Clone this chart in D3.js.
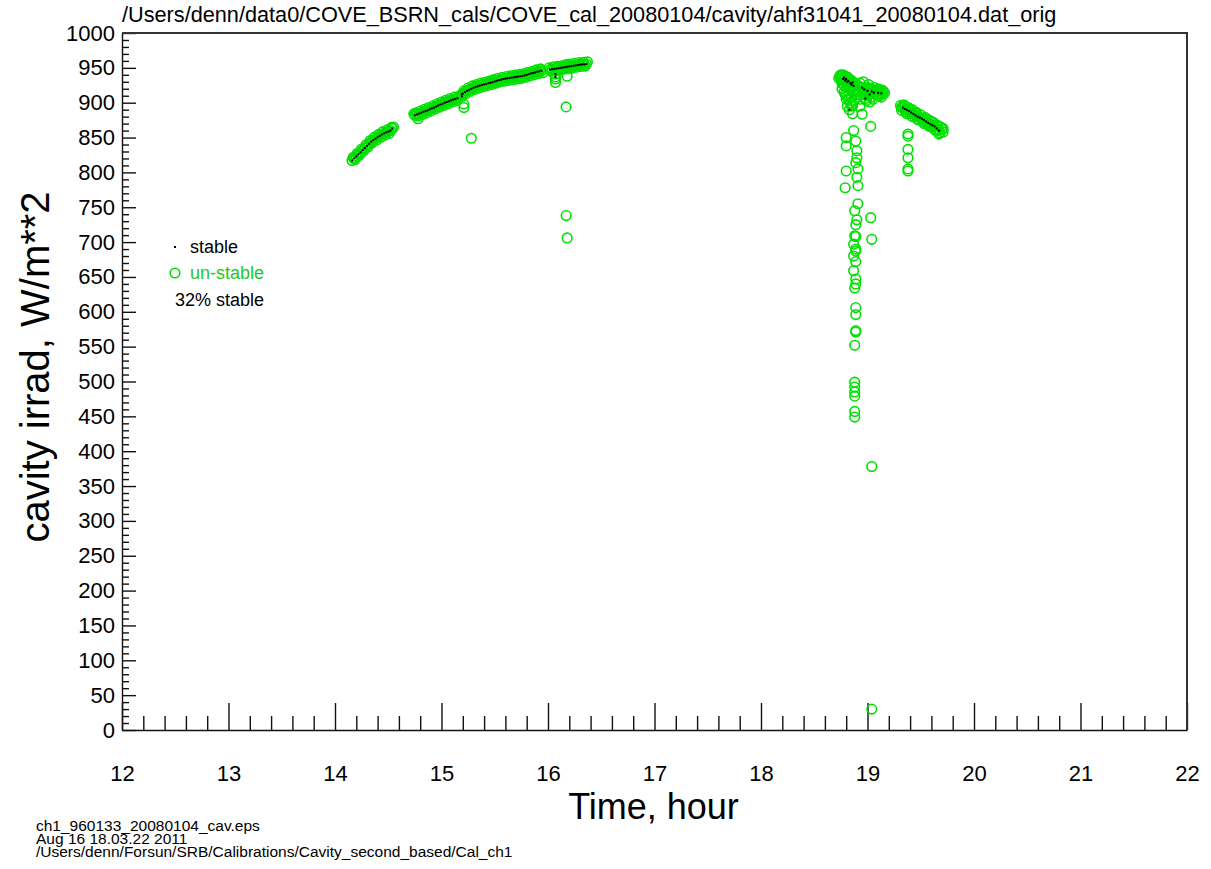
<!DOCTYPE html>
<html>
<head>
<meta charset="utf-8">
<script src="https://cdn.jsdelivr.net/npm/d3@7"></script>
<style>
  body { margin: 0; background: #fff; }
  svg { font-family: "Liberation Sans", Arial, Helvetica, sans-serif; }
</style>
</head>
<body>
<div id="chart"></div>
<script>
// ---- data: [hour, W/m**2] ----
var run1Stable = [[14.16,817],[14.18,820],[14.20,823],[14.22,826],[14.24,829],[14.26,832],[14.28,835],[14.30,838],
  [14.32,841],[14.34,844],[14.36,846.5],[14.38,848.5],[14.40,850.5],[14.42,852.5],[14.44,854.5],[14.46,856],
  [14.48,857.5],[14.50,858.5],[14.52,860],[14.54,863]];
var run1Scatter = [[14.17,821.5],[14.19,818.5],[14.21,827.5],[14.23,824.5],[14.25,833.5],[14.27,830.5],[14.29,839.5],
  [14.31,836.5],[14.33,845.5],[14.35,842.5],[14.37,850.5],[14.39,846.5],[14.41,854.5],[14.43,850.5],[14.45,858.5],
  [14.47,853.5],[14.49,861],[14.51,856],[14.53,864.5],[14.55,865]];

var run2Stable = [[14.75,882],[14.77,883],[14.79,884.5],[14.81,885.5],[14.83,887],[14.85,888],[14.87,889],[14.89,890.5],
  [14.91,892],[14.93,893],[14.95,894.5],[14.97,896],[14.99,897.5],[15.01,898.5],[15.03,900],[15.05,901],[15.07,902],
  [15.09,903.5],[15.11,904.5],[15.13,905.5],[15.15,906.5],[15.19,909],[15.19,912]];
var run2Scatter = [[14.74,884],[14.76,885.5],[14.78,881],[14.80,888],[14.82,883],[14.84,890.5],[14.86,885.5],[14.88,893],[14.90,888],
  [14.92,895.5],[14.94,891],[14.96,898.5],[14.98,893.5],[15.00,901],[15.02,896],[15.04,903.5],[15.06,898.5],[15.08,906],
  [15.10,901],[15.12,908],[15.14,903],[15.16,909],[14.78,877]];

var run3Stable = [[15.20,913],[15.22,915],[15.24,917],[15.26,918.5],[15.28,920],[15.30,921.5],[15.32,922.5],[15.34,923.5],
  [15.36,924.5],[15.38,925.5],[15.40,926.5],[15.42,927],[15.44,928],[15.46,928.5],[15.48,929.5],[15.50,930.5],
  [15.52,931.5],[15.54,932.5],[15.56,933],[15.58,934],[15.60,934.5],[15.62,935],[15.64,935.5],[15.66,936],
  [15.68,936.5],[15.70,937],[15.72,937.5],[15.74,938],[15.76,938.5],[15.78,939],[15.80,940],[15.82,941],
  [15.84,942],[15.86,942.5],[15.88,943.5],[15.90,944.5],[15.92,945],[15.94,946]];
var run3Scatter = [[15.21,917],[15.23,913],[15.25,921],[15.27,916.5],[15.29,924],[15.31,919],[15.33,926],[15.35,921],
  [15.37,928],[15.39,923],[15.41,929.5],[15.43,924.5],[15.45,931],[15.47,926],[15.49,933],[15.51,928],[15.53,935],
  [15.55,930],[15.57,936.5],[15.59,931],[15.61,937.5],[15.63,932],[15.65,938.5],[15.67,933],[15.69,939.5],[15.71,934],
  [15.73,940.5],[15.75,935],[15.77,941.5],[15.79,936.5],[15.81,943.5],[15.83,938.5],[15.85,945],[15.87,940],
  [15.89,947],[15.91,942],[15.93,948.5],[15.95,943]];

var run4Stable = [[16.02,947.5],[16.04,948],[16.06,948.5],[16.08,949],[16.10,949.5],[16.12,950],[16.14,950.5],[16.16,951],
  [16.18,951.5],[16.20,952],[16.22,952.5],[16.24,953],[16.26,953.5],[16.28,954],[16.30,954.5],[16.32,955],
  [16.34,955],[16.36,955.5],[16.07,941],[16.07,937]];
var run4Scatter = [[16.01,950],[16.03,945],[16.05,951.5],[16.07,945.5],[16.09,952],[16.11,947],[16.13,953],[16.15,948],
  [16.17,954.5],[16.19,949],[16.21,955.5],[16.23,950],[16.25,956.5],[16.27,951],[16.29,957.5],[16.31,952],
  [16.33,958],[16.35,952.5],[16.37,958.5]];

var morningOutliers = [[15.21,898],[15.21,893],[15.28,849],[16.07,934],[16.07,929],[16.18,938],
  [16.17,894],[16.17,738],[16.18,706]];

var clusterStable = [[18.77,934],[18.78,936],[18.79,932],[18.80,934],[18.81,930],[18.82,931],[18.84,928],[18.85,926],
  [18.86,929],[18.87,924],[18.83,890],[18.95,921.6],[18.97,919],[19.00,917],[19.02,912],[19.04,916],[19.06,914.5],
  [19.10,914],[19.13,913.5],[18.98,906],
  [19.33,893],[19.35,891],[19.37,889.5],[19.39,888],[19.41,886],[19.43,884],[19.45,882],[19.47,880],[19.49,878.5],
  [19.51,877],[19.53,875],[19.55,873],[19.57,871],[19.59,869],[19.61,867.5],[19.63,866],[19.65,863],[19.67,860]];
var clusterScatter = [[18.74,938],[18.75,933],[18.76,928],[18.77,940],[18.78,925],[18.79,938],[18.80,922],[18.81,937],
  [18.82,926],[18.83,934],[18.84,919],[18.85,932],[18.86,922],[18.87,915],[18.88,928],[18.89,918],[18.90,911],
  [18.78,915],[18.80,910],[18.82,905],[18.84,900],[18.86,896],[18.85,908],[18.88,904],[18.81,895],
  [18.80,905],[18.85,895],[18.93,895],[18.95,883.5],[18.86,884],
  [18.73,935],[18.75,940],[18.76,936],[18.78,930],[18.80,928],[18.83,922],[18.86,916],[18.88,912],[18.76,920],[18.79,912],
  [18.91,925],[18.93,928],[18.95,915],[18.96,930],[18.98,922],[19.00,910],[19.01,926],[19.03,920],[19.04,908],
  [19.06,922],[19.08,912],[19.09,918],[19.11,910],[19.12,917],[19.14,912],[19.15,916],[18.99,903],[19.02,901],
  [18.93,905],[19.05,905],[19.13,908],
  [18.92,918],[18.94,922],[18.97,912],[19.00,922],[19.02,916],[19.05,918],[19.07,916],[19.10,920],[19.12,912],
  [19.14,918],[19.16,914],
  [19.31,896],[19.32,889],[19.34,897],[19.36,887],[19.38,893.5],[19.40,884],[19.42,890],[19.44,880],[19.46,886],
  [19.48,876],[19.50,882.5],[19.52,873],[19.54,879],[19.56,869],[19.58,875],[19.60,865.5],[19.62,871.5],
  [19.64,862],[19.66,867],[19.68,857],[19.70,862],[19.71,858],
  [19.32,893],[19.35,895],[19.37,884],[19.40,890],[19.42,880],[19.45,886],[19.47,876],[19.50,878],[19.53,870],
  [19.55,877],[19.58,866],[19.60,873],[19.63,861],[19.65,868],[19.67,855],[19.69,865],[19.71,863]];

var spikeCircles = [[18.80,850],[18.80,838],[18.87,860],[18.89,845],[18.90,831],[18.90,821],[18.89,814],[18.91,805],
  [18.80,802],[18.90,793],[18.79,778],[18.91,781],[18.91,755],[18.88,745],[18.90,732],[18.89,725],[18.88,709],
  [18.89,708],[18.87,697],[18.89,690],[18.89,687],[18.87,680],[18.89,672],[18.87,659],[18.89,647],[18.89,640],
  [18.88,634],[18.89,606],[18.89,596],[18.89,573],[18.89,571],[18.88,552],[18.88,499],[18.88,492],[18.88,485],
  [18.88,479],[18.88,457],[18.88,449],
  [19.03,866],[19.03,735],[19.04,704],[19.04,378],[19.04,30],
  [19.38,855],[19.38,852],[19.38,833],[19.38,821],[19.38,805],[19.38,802]];

var xTickLabels = ["12","13","14","15","16","17","18","19","20","21","22"];
var yTickLabels = ["0","50","100","150","200","250","300","350","400","450","500","550","600","650","700",
  "750","800","850","900","950","1000"];
var legendLabels = ["stable", "un-stable", "32% stable"];
var titleText = "/Users/denn/data0/COVE_BSRN_cals/COVE_cal_20080104/cavity/ahf31041_20080104.dat_orig";
var footerLines = ["ch1_960133_20080104_cav.eps", "Aug 16 18.03.22 2011",
  "/Users/denn/Forsun/SRB/Calibrations/Cavity_second_based/Cal_ch1"];

// ---- layout ----
var svgWidth = 1211, svgHeight = 869;
var margin = {top: 33, right: 24, bottom: 139, left: 122};
var width = svgWidth - margin.left - margin.right;
var height = svgHeight - margin.top - margin.bottom;
var green = "#00e000";

var svg = d3.select("#chart").append("svg")
  .attr("width", svgWidth)
  .attr("height", svgHeight);

var chartGroup = svg.append("g")
  .attr("transform", `translate(${margin.left}, ${margin.top})`);

var xScale = d3.scaleLinear().domain([12, 22]).range([0, width]);
var yScale = d3.scaleLinear().domain([0, 1000]).range([height, 0]);

// minor ticks
var yMinor = d3.range(0, 1001, 10).filter(d => d % 50 !== 0);
var xMinor = d3.range(12, 22.001, 0.2).filter(d => Math.abs(d - Math.round(d)) > 0.01);

chartGroup.append("g")
  .attr("class", "minor")
  .call(d3.axisLeft(yScale).tickValues(yMinor).tickSize(-7).tickFormat(""))
  .call(g => g.select(".domain").remove());

chartGroup.append("g")
  .attr("class", "minor")
  .attr("transform", `translate(0, ${height})`)
  .call(d3.axisBottom(xScale).tickValues(xMinor).tickSize(-14).tickFormat(""))
  .call(g => g.select(".domain").remove());

// major axes
chartGroup.append("g")
  .attr("class", "axis")
  .call(d3.axisLeft(yScale)
    .tickValues(yTickLabels.map(Number))
    .tickSizeInner(-14).tickSizeOuter(0).tickPadding(7)
    .tickFormat((d, i) => yTickLabels[i]));

chartGroup.append("g")
  .attr("class", "axis")
  .attr("transform", `translate(0, ${height})`)
  .call(d3.axisBottom(xScale)
    .tickValues(xTickLabels.map(Number))
    .tickSizeInner(-27).tickSizeOuter(0).tickPadding(35)
    .tickFormat((d, i) => xTickLabels[i]));

svg.selectAll(".axis text")
  .attr("font-size", "22px")
  .attr("font-family", "Liberation Sans, Arial, sans-serif")
  .attr("fill", "#000");
svg.selectAll(".axis path, .axis line, .minor line")
  .attr("stroke", "#111")
  .attr("stroke-width", 1.4);

// frame top and right
chartGroup.append("path")
  .attr("d", `M0,0H${width}V${height}`)
  .attr("fill", "none")
  .attr("stroke", "#333")
  .attr("stroke-width", 2);

// ---- marks ----
var circleData = [].concat(run1Stable, run1Scatter, run2Stable, run2Scatter, run3Stable, run3Scatter,
  run4Stable, run4Scatter, morningOutliers, clusterStable, clusterScatter, spikeCircles);
var stableData = [].concat(run1Stable, run2Stable, run3Stable, run4Stable, clusterStable);

chartGroup.append("g").selectAll("circle")
  .data(circleData)
  .enter()
  .append("circle")
  .attr("cx", d => xScale(d[0]))
  .attr("cy", d => yScale(d[1]))
  .attr("r", 4.8)
  .attr("fill", "none")
  .attr("stroke", green)
  .attr("stroke-width", 1.6);

chartGroup.append("g").selectAll("rect")
  .data(stableData)
  .enter()
  .append("rect")
  .attr("x", d => xScale(d[0]) - 1)
  .attr("y", d => yScale(d[1]) - 1)
  .attr("width", 2)
  .attr("height", 2)
  .attr("fill", "#000");

// ---- legend ----
var legend = svg.append("g").attr("font-size", "18px");
legend.append("rect").attr("x", 174).attr("y", 246).attr("width", 2).attr("height", 2).attr("fill", "#000");
legend.append("text").attr("x", 190).attr("y", 253).text(legendLabels[0]);
legend.append("circle").attr("cx", 175).attr("cy", 273).attr("r", 4.8)
  .attr("fill", "none").attr("stroke", green).attr("stroke-width", 1.6);
legend.append("text").attr("x", 190).attr("y", 279).attr("fill", "#1ec81e").text(legendLabels[1]);
legend.append("text").attr("x", 175).attr("y", 306).text(legendLabels[2]);

// ---- titles ----
svg.append("text")
  .attr("x", 122).attr("y", 22)
  .attr("font-size", "21.7px")
  .text(titleText);

svg.append("text")
  .attr("x", margin.left + width / 2 - 1).attr("y", 819)
  .attr("text-anchor", "middle")
  .attr("font-size", "36px")
  .text("Time, hour");

svg.append("text")
  .attr("transform", "translate(49, 367) rotate(-90)")
  .attr("text-anchor", "middle")
  .attr("font-size", "40px")
  .text("cavity irrad, W/m**2");

svg.append("g").attr("font-size", "15.5px")
  .selectAll("text")
  .data(footerLines)
  .enter()
  .append("text")
  .attr("x", 36)
  .attr("y", (d, i) => 831 + i * 13)
  .text(d => d);
</script>
</body>
</html>
